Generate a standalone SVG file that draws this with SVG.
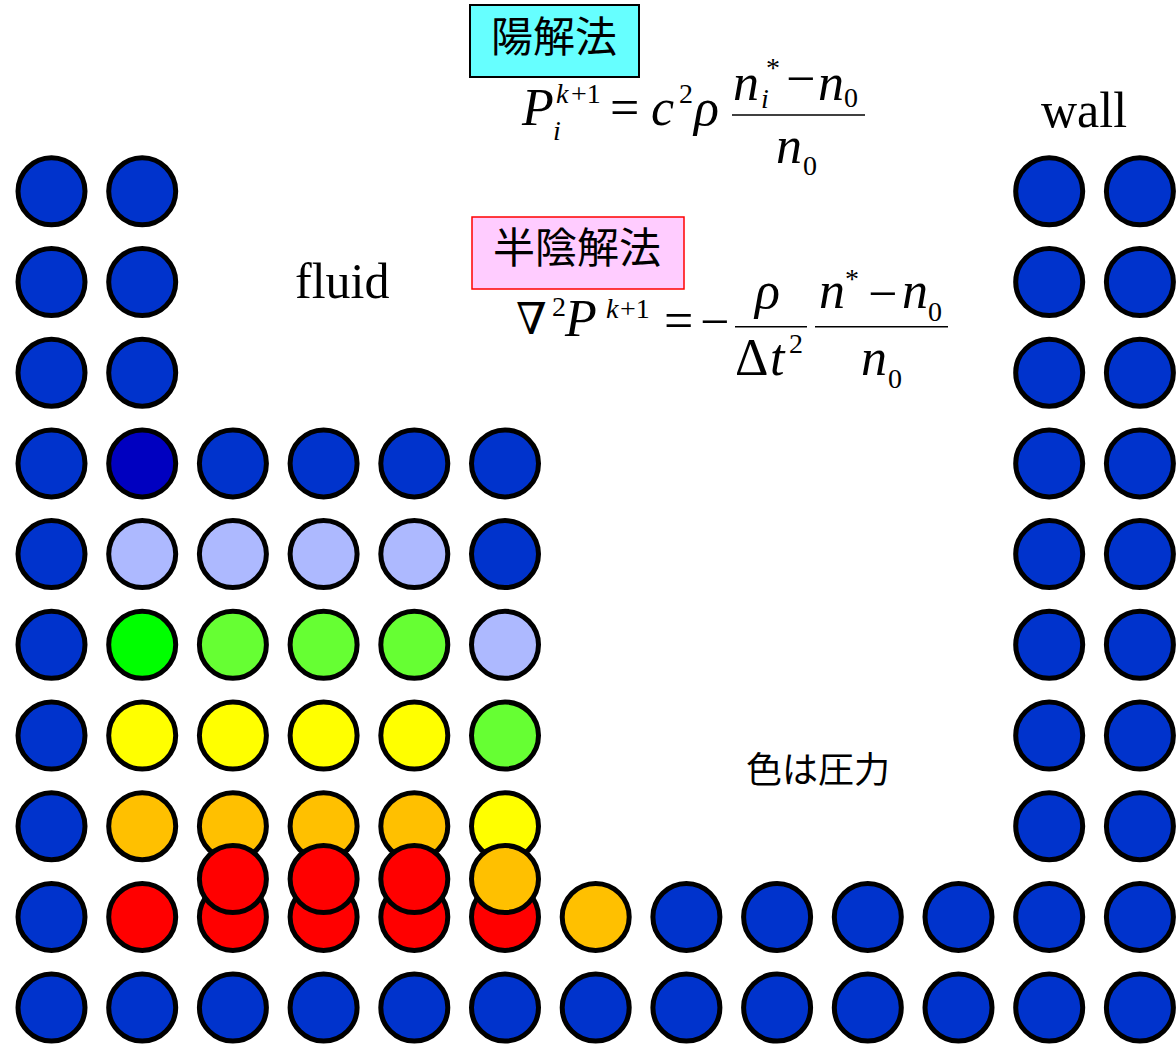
<svg xmlns="http://www.w3.org/2000/svg" width="1176" height="1045" viewBox="0 0 1176 1045">
<style>
.p{stroke:#000;stroke-width:5}
.b{fill:#0033CC}.db{fill:#0000C0}.lb{fill:#ADB9FF}.g{fill:#00FF00}.lg{fill:#66FF33}.y{fill:#FFFF00}.o{fill:#FFC000}.r{fill:#FF0000}
.m{font-family:"Liberation Serif","Times New Roman",serif;font-size:52px;fill:#000}
.i{font-style:italic}
.s{font-size:28px}
.nab{font-family:"DejaVu Serif","Liberation Serif",serif;font-size:44px;fill:#000}
.lbl{font-family:"Liberation Serif","Times New Roman",serif;font-size:50px;fill:#000}
.jp{font-family:"Noto Sans CJK JP","Noto Sans CJK SC",sans-serif;fill:#000}
.fl{stroke:#000;stroke-width:1.6}
</style>
<defs>
<circle id="pt" r="33.5"/>
</defs>
<g id="particles">
<use href="#pt" class="p b" x="51.5" y="191.3"/>
<use href="#pt" class="p b" x="51.5" y="282"/>
<use href="#pt" class="p b" x="51.5" y="372.7"/>
<use href="#pt" class="p b" x="51.5" y="463.4"/>
<use href="#pt" class="p b" x="51.5" y="554.1"/>
<use href="#pt" class="p b" x="51.5" y="644.8"/>
<use href="#pt" class="p b" x="51.5" y="735.5"/>
<use href="#pt" class="p b" x="51.5" y="826.2"/>
<use href="#pt" class="p b" x="51.5" y="916.9"/>
<use href="#pt" class="p b" x="51.5" y="1007.6"/>
<use href="#pt" class="p b" x="142.2" y="191.3"/>
<use href="#pt" class="p b" x="142.2" y="282"/>
<use href="#pt" class="p b" x="142.2" y="372.7"/>
<use href="#pt" class="p db" x="142.2" y="463.4"/>
<use href="#pt" class="p lb" x="142.2" y="554.1"/>
<use href="#pt" class="p g" x="142.2" y="644.8"/>
<use href="#pt" class="p y" x="142.2" y="735.5"/>
<use href="#pt" class="p o" x="142.2" y="826.2"/>
<use href="#pt" class="p r" x="142.2" y="916.9"/>
<use href="#pt" class="p b" x="142.2" y="1007.6"/>
<use href="#pt" class="p b" x="232.9" y="463.4"/>
<use href="#pt" class="p b" x="323.6" y="463.4"/>
<use href="#pt" class="p b" x="414.3" y="463.4"/>
<use href="#pt" class="p b" x="505" y="463.4"/>
<use href="#pt" class="p lb" x="232.9" y="554.1"/>
<use href="#pt" class="p lb" x="323.6" y="554.1"/>
<use href="#pt" class="p lb" x="414.3" y="554.1"/>
<use href="#pt" class="p b" x="505" y="554.1"/>
<use href="#pt" class="p lg" x="232.9" y="644.8"/>
<use href="#pt" class="p lg" x="323.6" y="644.8"/>
<use href="#pt" class="p lg" x="414.3" y="644.8"/>
<use href="#pt" class="p lb" x="505" y="644.8"/>
<use href="#pt" class="p y" x="232.9" y="735.5"/>
<use href="#pt" class="p y" x="323.6" y="735.5"/>
<use href="#pt" class="p y" x="414.3" y="735.5"/>
<use href="#pt" class="p lg" x="505" y="735.5"/>
<use href="#pt" class="p o" x="232.9" y="826.2"/>
<use href="#pt" class="p o" x="323.6" y="826.2"/>
<use href="#pt" class="p o" x="414.3" y="826.2"/>
<use href="#pt" class="p y" x="505" y="826.2"/>
<use href="#pt" class="p r" x="232.9" y="916.9"/>
<use href="#pt" class="p r" x="323.6" y="916.9"/>
<use href="#pt" class="p r" x="414.3" y="916.9"/>
<use href="#pt" class="p r" x="505" y="916.9"/>
<use href="#pt" class="p r" x="232.9" y="879"/>
<use href="#pt" class="p r" x="323.6" y="879"/>
<use href="#pt" class="p r" x="414.3" y="879"/>
<use href="#pt" class="p o" x="505" y="879"/>
<use href="#pt" class="p o" x="595.7" y="916.9"/>
<use href="#pt" class="p b" x="686.4" y="916.9"/>
<use href="#pt" class="p b" x="777.1" y="916.9"/>
<use href="#pt" class="p b" x="867.8" y="916.9"/>
<use href="#pt" class="p b" x="958.5" y="916.9"/>
<use href="#pt" class="p b" x="232.9" y="1007.6"/>
<use href="#pt" class="p b" x="323.6" y="1007.6"/>
<use href="#pt" class="p b" x="414.3" y="1007.6"/>
<use href="#pt" class="p b" x="505" y="1007.6"/>
<use href="#pt" class="p b" x="595.7" y="1007.6"/>
<use href="#pt" class="p b" x="686.4" y="1007.6"/>
<use href="#pt" class="p b" x="777.1" y="1007.6"/>
<use href="#pt" class="p b" x="867.8" y="1007.6"/>
<use href="#pt" class="p b" x="958.5" y="1007.6"/>
<use href="#pt" class="p b" x="1049.2" y="191.3"/>
<use href="#pt" class="p b" x="1049.2" y="282"/>
<use href="#pt" class="p b" x="1049.2" y="372.7"/>
<use href="#pt" class="p b" x="1049.2" y="463.4"/>
<use href="#pt" class="p b" x="1049.2" y="554.1"/>
<use href="#pt" class="p b" x="1049.2" y="644.8"/>
<use href="#pt" class="p b" x="1049.2" y="735.5"/>
<use href="#pt" class="p b" x="1049.2" y="826.2"/>
<use href="#pt" class="p b" x="1049.2" y="916.9"/>
<use href="#pt" class="p b" x="1049.2" y="1007.6"/>
<use href="#pt" class="p b" x="1139.9" y="191.3"/>
<use href="#pt" class="p b" x="1139.9" y="282"/>
<use href="#pt" class="p b" x="1139.9" y="372.7"/>
<use href="#pt" class="p b" x="1139.9" y="463.4"/>
<use href="#pt" class="p b" x="1139.9" y="554.1"/>
<use href="#pt" class="p b" x="1139.9" y="644.8"/>
<use href="#pt" class="p b" x="1139.9" y="735.5"/>
<use href="#pt" class="p b" x="1139.9" y="826.2"/>
<use href="#pt" class="p b" x="1139.9" y="916.9"/>
<use href="#pt" class="p b" x="1139.9" y="1007.6"/>
</g>
<g id="label-explicit">
<rect x="470" y="5" width="169" height="72" fill="#66FFFF" stroke="#000" stroke-width="2"/>
<text class="jp" x="491" y="52" font-size="42">陽解法</text>
</g>
<g id="formula-explicit">
<text class="m i" x="522" y="125">P</text>
<text class="m i s" x="556" y="103">k</text>
<text class="m s" x="571" y="103">+1</text>
<text class="m i s" x="553" y="140">i</text>
<text class="m" x="610" y="125" font-size="56">=</text>
<text class="m i" x="651" y="125">c</text>
<text class="m s" x="679" y="103">2</text>
<text class="m i" x="694" y="125" font-size="58">ρ</text>
<line class="fl" x1="732" y1="115" x2="865" y2="115"/>
<text class="m i" x="733" y="100">n</text>
<text class="m i s" x="761" y="108">i</text>
<text class="m s" x="766" y="77">*</text>
<text class="m" x="786" y="96">−</text>
<text class="m i" x="818" y="100">n</text>
<text class="m s" x="844" y="107">0</text>
<text class="m i" x="776" y="163">n</text>
<text class="m s" x="803" y="175">0</text>
</g>
<g id="label-semi-implicit">
<rect x="472" y="217" width="212" height="72" fill="#FFCCFF" stroke="#FF0000" stroke-width="1.5"/>
<text class="jp" x="493" y="263" font-size="42">半陰解法</text>
</g>
<g id="formula-semi-implicit">
<text class="nab" x="516" y="334">∇</text>
<text class="m s" x="552" y="316">2</text>
<text class="m i" x="565" y="336">P</text>
<text class="m i s" x="606" y="318">k</text>
<text class="m s" x="620" y="318">+1</text>
<text class="m" x="664" y="338">=</text>
<text class="m" x="700" y="339">−</text>
<line class="fl" x1="735" y1="326.7" x2="807" y2="326.7"/>
<text class="m i" x="755" y="308" font-size="58">ρ</text>
<text class="m" x="735" y="375">Δ<tspan class="i" x="770">t</tspan></text>
<text class="m s" x="789" y="353">2</text>
<line class="fl" x1="815" y1="326.7" x2="948" y2="326.7"/>
<text class="m i" x="819" y="308">n</text>
<text class="m s" x="845" y="288">*</text>
<text class="m" x="868" y="311">−</text>
<text class="m i" x="902" y="308">n</text>
<text class="m s" x="928" y="321">0</text>
<text class="m i" x="861" y="375">n</text>
<text class="m s" x="888" y="388">0</text>
</g>
<g id="label-fluid"><text class="lbl" x="295" y="298">fluid</text></g>
<g id="label-wall"><text class="lbl" x="1041" y="127">wall</text></g>
<g id="label-color"><text class="jp" x="746" y="783" font-size="36">色は圧力</text></g>
</svg>
